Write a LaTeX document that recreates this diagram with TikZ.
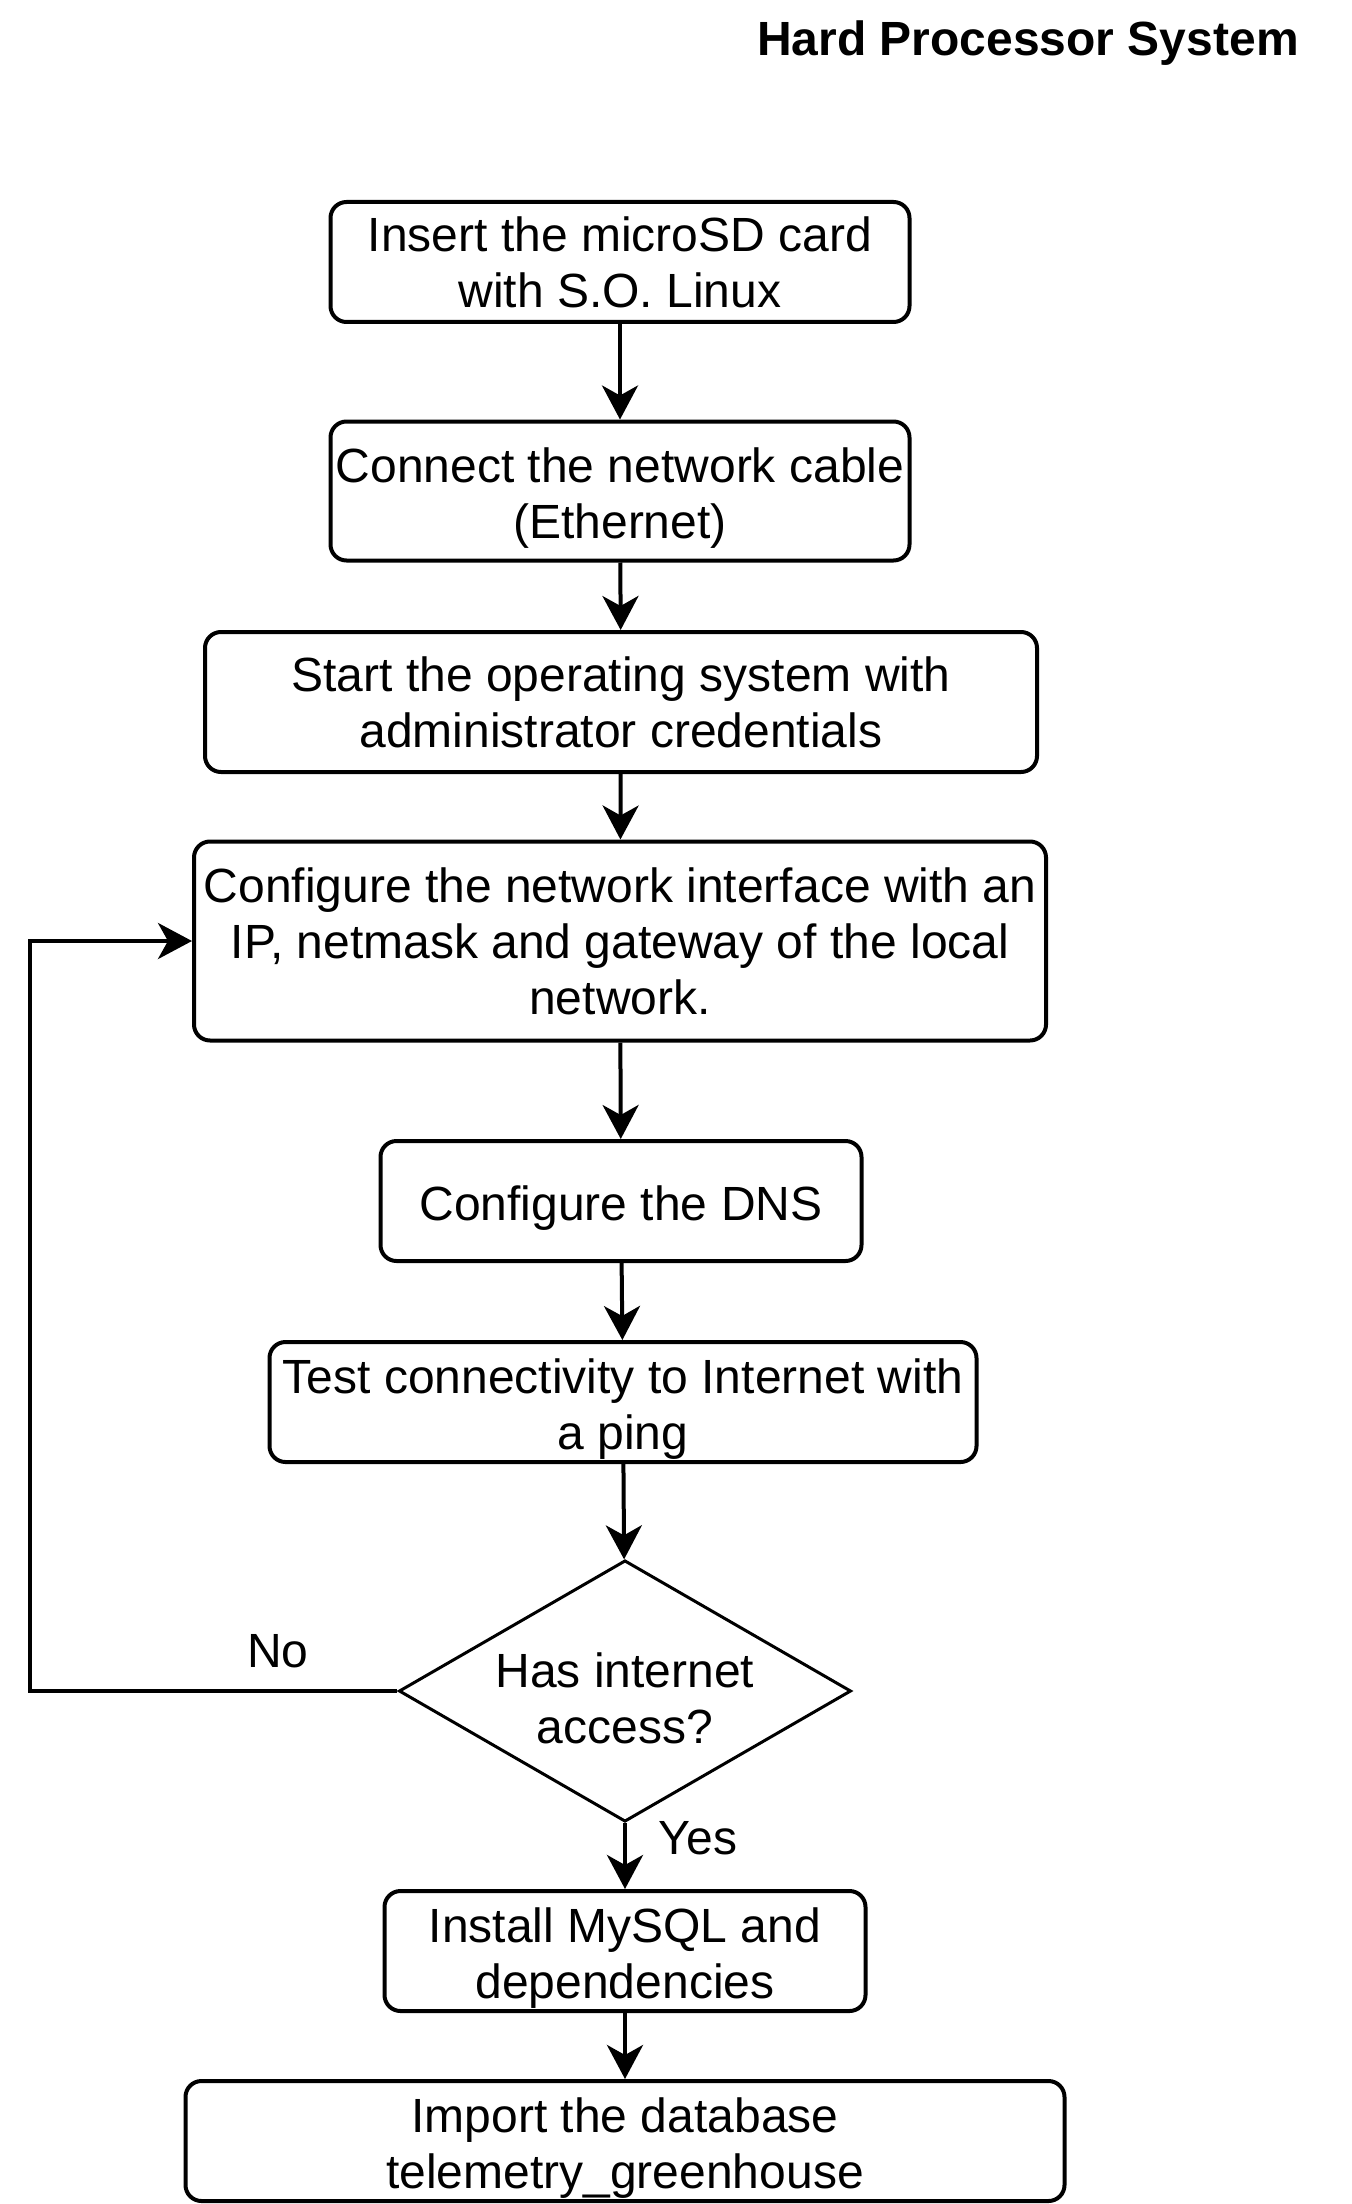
\documentclass[tikz,border=0pt]{standalone}
\usepackage{fontspec}
\setmainfont{Liberation Sans}
\usetikzlibrary{arrows.meta,shapes.geometric}

\newcommand{\boxstrut}{\rule{0pt}{24.5pt}}

\tikzset{every picture/.style={line width=2pt}}
\tikzset{
  stepbox/.style={draw, rounded corners=8pt, align=center, inner sep=0pt, font=\fontsize{24}{28}\selectfont},
  askbox/.style={draw, diamond, aspect=1.73, align=center, inner sep=1pt, line width=1.5pt, font=\fontsize{24}{28}\selectfont},
  lbl/.style={font=\fontsize{24}{28}\selectfont},
  arr/.style={-{Stealth[length=17pt,width=18pt,inset=5pt]}},
}

\begin{document}
\begin{tikzpicture}[x=0.5pt,y=0.5pt,yscale=-1,xscale=1]
\useasboundingbox (0,0) rectangle (1352,2204);

% Text Node
\node (title) at (1028,43) [lbl] {\bfseries Hard Processor System};

%Shape: Rounded Rect
\node (sdcard) at (620,262) [stepbox, minimum width=289.5pt, minimum height=60pt] {Insert the microSD card\\with S.O. Linux};
%Shape: Rounded Rect
\node (cable) at (620,491) [stepbox, minimum width=289.5pt, minimum height=69.5pt] {\boxstrut Connect the network cable\\(Ethernet)};
%Shape: Rounded Rect
\node (boot) at (621,702) [stepbox, minimum width=416pt, minimum height=70pt] {Start the operating system with\\administrator credentials};
%Shape: Rounded Rect
\node (netcfg) at (620,941) [stepbox, minimum width=426pt, minimum height=99.5pt] {Configure the network interface with an\\IP, netmask and gateway of the local\\network.};
%Shape: Rounded Rect
\node (dns) at (621,1201) [stepbox, minimum width=240.5pt, minimum height=60pt] {\boxstrut Configure the DNS};
%Shape: Rounded Rect
\node (ping) at (623,1402) [stepbox, minimum width=353.5pt, minimum height=60pt] {\boxstrut Test connectivity to Internet with\\a ping};
%Shape: Diamond
\node (online) at (625,1691) [askbox] {\boxstrut Has internet\\access?};
%Shape: Rounded Rect
\node (mysql) at (625,1951) [stepbox, minimum width=240.5pt, minimum height=60pt] {\boxstrut Install MySQL and\\dependencies};
%Shape: Rounded Rect
\node (dbase) at (625,2141) [stepbox, minimum width=439.5pt, minimum height=60pt] {\boxstrut Import the database\\telemetry\_greenhouse};

%Straight Lines
\draw [arr] (sdcard) -- (cable);
\draw [arr] (cable) -- (boot);
\draw [arr] (boot) -- (netcfg);
\draw [arr] (netcfg) -- (dns);
\draw [arr] (dns) -- (ping);
\draw [arr] (ping) -- (online);
\draw [arr] (online) -- (mysql);
\draw [arr] (mysql) -- (dbase);

%Connector: back to the network setup
\coordinate (loopcorner) at (30,1691);
\draw [arr] (online.west) -- (loopcorner) |- (netcfg.west);

% Text Node
\node (nolbl) at (278,1651) [lbl] {No};
% Text Node
\node (yeslbl) at (698,1838) [lbl] {Yes};

\end{tikzpicture}
\end{document}
